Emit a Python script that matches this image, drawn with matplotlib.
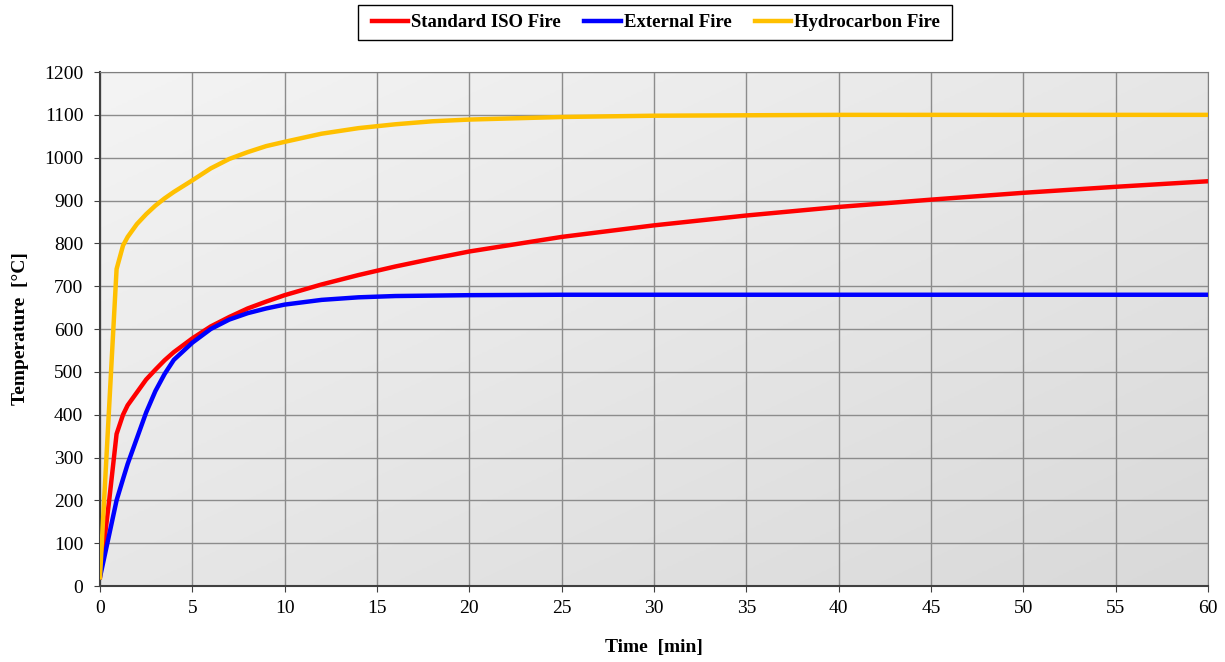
import numpy as np
import matplotlib.pyplot as plt
from matplotlib.colors import LinearSegmentedColormap
from matplotlib.patches import Rectangle

plt.rcParams['font.family'] = ['Liberation Serif', 'DejaVu Serif']

# values
t_min = [0, 0.5, 0.9, 1.25, 1.5, 2, 2.5, 3, 3.5, 4, 5, 6, 7, 8, 9, 10, 12, 14,
         16, 18, 20, 25, 30, 35, 40, 45, 50, 55, 60]
iso_fire = [20, 200, 355, 400, 422, 452, 482, 505, 527, 546, 578, 606, 628,
            648, 664, 679, 704, 726, 746, 764, 781, 815, 842, 865, 885, 902,
            918, 932, 945]
external_fire = [20, 120, 200, 250, 285, 345, 405, 455, 495, 528, 568, 600,
                 622, 637, 648, 657, 668, 674, 677, 678, 679, 680, 680, 680,
                 680, 680, 680, 680, 680]
hydrocarbon_fire = [20, 420, 740, 795, 815, 845, 868, 888, 905, 920, 947, 975,
                    997, 1013, 1027, 1037, 1056, 1069, 1078, 1085, 1089, 1095,
                    1098, 1099, 1100, 1100, 1100, 1100, 1100]

fig = plt.figure(figsize=(12.25, 6.62), dpi=100)
ax = fig.add_axes([0.0816, 0.1148, 0.9045, 0.7764])

# light grey gradient background (top-left light, bottom-right darker)
bg = LinearSegmentedColormap.from_list('bg', ['#f4f4f4', '#d9d9d9'])
gx, gy = np.meshgrid(np.linspace(0, 1, 200), np.linspace(0, 1, 200))
grad = 0.5 * gx + 0.5 * (1 - gy)
ax.imshow(grad, extent=[0, 1, 0, 1], transform=ax.transAxes, cmap=bg,
          vmin=0, vmax=1, aspect='auto', zorder=0, origin='lower')

ax.plot(t_min, iso_fire, color='#ff0000', lw=3.2, label='Standard ISO Fire', zorder=3)
ax.plot(t_min, external_fire, color='#0000ff', lw=3.2, label='External Fire', zorder=3)
ax.plot(t_min, hydrocarbon_fire, color='#ffc000', lw=3.2, label='Hydrocarbon Fire', zorder=3)

ax.set_xlim(0, 60)
ax.set_ylim(0, 1200)
ax.set_xticks(range(0, 61, 5))
ax.set_yticks(range(0, 1201, 100))
ax.grid(True, color='#8c8c8c', lw=1)
for gl in ax.get_xgridlines() + ax.get_ygridlines():
    gl.set_zorder(1)
ax.tick_params(labelsize=14, direction='out', length=4, color='#404040')
ax.tick_params(axis='x', pad=6)
ax.tick_params(axis='y', pad=8)
for s in ax.spines.values():
    s.set_color('#7f7f7f')
ax.spines['left'].set_color('#404040')
ax.spines['bottom'].set_color('#404040')
ax.spines['left'].set_linewidth(1.5)
ax.spines['bottom'].set_linewidth(1.5)

ax.set_xlabel('Time  [min]', fontsize=14, fontweight='bold', labelpad=16)
ax.set_ylabel('Temperature  [°C]', fontsize=14, fontweight='bold', labelpad=11)

# legend on top, own box drawn around it
leg = fig.legend(loc='center', bbox_to_anchor=(0.5355, 0.966), ncol=3,
                 frameon=False, prop={'weight': 'bold', 'size': 13.5},
                 handlelength=1.95, handletextpad=0.15, columnspacing=1.25)
fig.patches.append(Rectangle((358 / 1225, 1 - 40 / 662), 594 / 1225, 35 / 662,
                             transform=fig.transFigure, fill=False,
                             edgecolor='black', lw=1))

fig.savefig('out.png', dpi=100)
